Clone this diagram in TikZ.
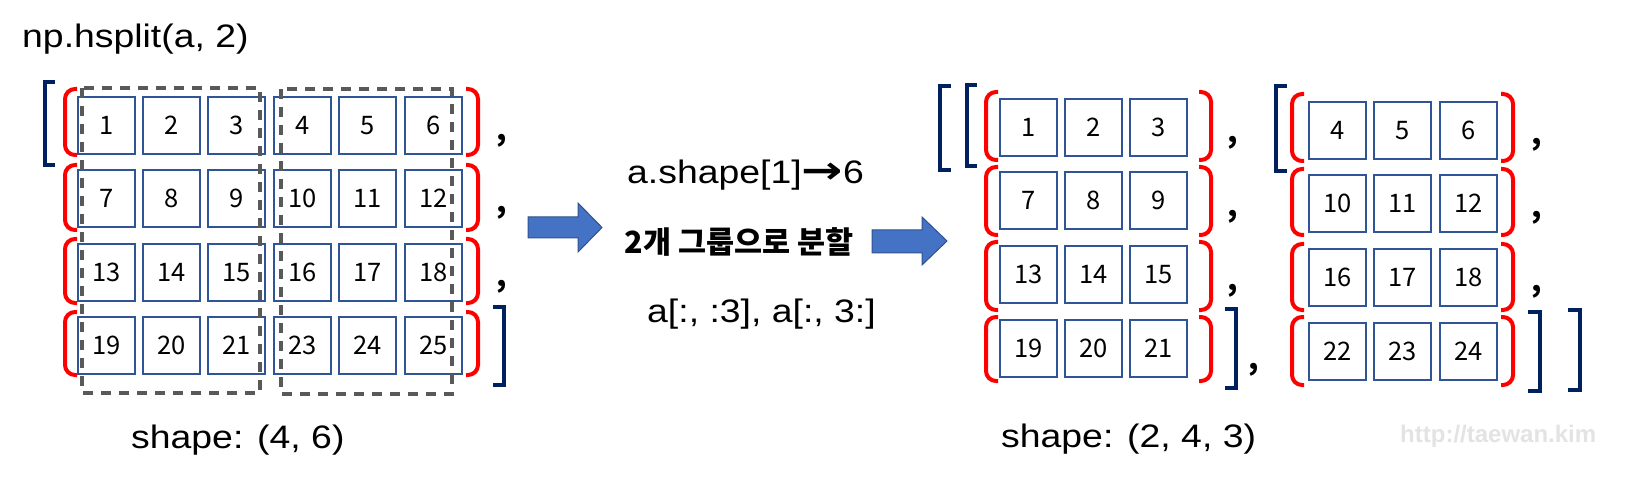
\documentclass[tikz,border=0pt]{standalone}
\usepackage{fontspec}
\setmainfont{Liberation Sans}
\newfontfamily\arl[FakeStretch=1.15]{Liberation Sans}
\newfontfamily\arwfont[FakeStretch=1.3]{DejaVu Sans}
\newfontfamily\kor{Noto Sans CJK KR}
\newfontfamily\numf{Noto Sans CJK KR}
\definecolor{cellblue}{HTML}{2F5597}
\definecolor{navyb}{HTML}{002060}
\definecolor{dashgray}{HTML}{595959}
\definecolor{arrfill}{HTML}{4472C4}
\definecolor{arrline}{HTML}{2F528F}
\definecolor{wmgray}{HTML}{E3E3E3}
\newcommand\redLeft[3]{\draw[redbr] (#1+12,#2) -- (#1,#2) -- (#1,#3) -- (#1+12,#3);}
\newcommand\redRight[3]{\draw[redbr] (#1-12,#2) -- (#1,#2) -- (#1,#3) -- (#1-12,#3);}
\newcommand\sqBr[4]{\draw[navybr] (#2,#3) -- (#1,#3) -- (#1,#4) -- (#2,#4);}
\begin{document}
\begin{tikzpicture}[x=1pt,y=-1pt,
  cellbox/.style={draw=cellblue, line width=1.6pt, minimum width=57.4pt, minimum height=57.4pt, inner sep=0pt, font=\numf\fontsize{25.5}{30}\selectfont},
  redbr/.style={draw=red, line width=4pt, rounded corners=10pt},
  navybr/.style={draw=navyb, line width=4.5pt, line join=miter},
  dashbox/.style={draw=dashgray, line width=4pt, dash pattern=on 10pt off 8pt},
  blockarrow/.style={fill=arrfill, draw=arrline, line width=1pt},
  commatxt/.style={inner sep=0pt, font=\numf\bfseries\fontsize{30}{34}\selectfont},
  bigtxt/.style={inner sep=0pt, font=\arl\fontsize{32.5}{39}\selectfont}]
\useasboundingbox (0,0) rectangle (1631,481);

% ---------- left matrix ----------
\foreach \r/\y/\a/\b/\c/\d/\e/\f in {1/96/1/2/3/4/5/6, 2/169/7/8/9/10/11/12, 3/243/13/14/15/16/17/18, 4/316/19/20/21/23/24/25}{
  \foreach \cc/\x/\v in {1/77/\a, 2/142/\b, 3/207/\c, 4/273/\d, 5/338/\e, 6/404/\f}{
    \node[cellbox] (L-\r-\cc) at (\x+29.5,\y+29.5) {\v};
  }
}
\foreach \t/\b in {89/155, 165/230, 239/303, 312/375}{
  \redLeft{65}{\t}{\b}
  \redRight{478}{\t}{\b}
}
\sqBr{45}{55}{82}{165}
\sqBr{504}{493}{307}{385}
\draw[dashbox] (82,88) rectangle (260,393);
\draw[dashbox] (281,89) rectangle (452,394);
\node[commatxt] (Lc1) at (502,141) {,};
\node[commatxt] (Lc2) at (502,213) {,};
\node[commatxt] (Lc3) at (502,287) {,};

\node[bigtxt, anchor=base west] (title) at (22,48) {np.hsplit(a, 2)};
\node[bigtxt, anchor=base west] (shapeL) at (131,448) {shape: (4, 6)};

% ---------- middle ----------
\draw[blockarrow] (528,217) -- (578,217) -- (578,203) -- (602,227.5) -- (578,252) -- (578,238) -- (528,238) -- cycle;
\draw[blockarrow] (872,230) -- (922,230) -- (922,217) -- (947,241) -- (922,265) -- (922,253) -- (872,253) -- cycle;
\node[bigtxt, anchor=base west] (shp1) at (627,184) {a.shape[1]{\arwfont\fontsize{38}{44}\selectfont\bfseries →}6};
\node[inner sep=0pt, font=\kor\bfseries\fontsize{30.5}{36}\selectfont] (grp) at (739,242) {2개 그룹으로 분할};
\node[bigtxt, anchor=base west] (slc) at (647,322) {a[:, :3], a[:, 3:]};

% ---------- right group 1 ----------
\foreach \r/\y/\a/\b/\c in {1/98/1/2/3, 2/171/7/8/9, 3/245/13/14/15, 4/319/19/20/21}{
  \foreach \cc/\x/\v in {1/999/\a, 2/1064/\b, 3/1129/\c}{
    \node[cellbox] (A-\r-\cc) at (\x+29.5,\y+29.5) {\v};
  }
}
\foreach \t/\b in {92/160, 167/235, 242/310, 317/381}{
  \redLeft{986}{\t}{\b}
  \redRight{1211}{\t}{\b}
}
\sqBr{940}{951}{86}{170}
\sqBr{967}{977}{85}{166}
\sqBr{1236}{1225}{309}{388}
\node[commatxt] (Ac1) at (1233,143) {,};
\node[commatxt] (Ac2) at (1233,217) {,};
\node[commatxt] (Ac3) at (1233,291) {,};
\node[commatxt] (Ac4) at (1254,370) {,};

% ---------- right group 2 ----------
\foreach \r/\y/\a/\b/\c in {1/101/4/5/6, 2/174/10/11/12, 3/248/16/17/18, 4/322/22/23/24}{
  \foreach \cc/\x/\v in {1/1308/\a, 2/1373/\b, 3/1439/\c}{
    \node[cellbox] (B-\r-\cc) at (\x+29.5,\y+29.5) {\v};
  }
}
\foreach \t/\b in {94/161, 169/235, 244/310, 317/385}{
  \redLeft{1292}{\t}{\b}
  \redRight{1513}{\t}{\b}
}
\sqBr{1276}{1287}{86}{171}
\sqBr{1540}{1528}{312}{391}
\sqBr{1580}{1568}{310}{390}
\node[commatxt] (Bc1) at (1537,145) {,};
\node[commatxt] (Bc2) at (1537,218) {,};
\node[commatxt] (Bc3) at (1537,292) {,};

\node[bigtxt, anchor=base west] (shapeR) at (1001,447) {shape: (2, 4, 3)};
\node[inner sep=0pt, anchor=base west, text=wmgray, font=\bfseries\fontsize{24}{29}\selectfont] (wm) at (1400,442) {http://taewan.kim};
\end{tikzpicture}
\end{document}
